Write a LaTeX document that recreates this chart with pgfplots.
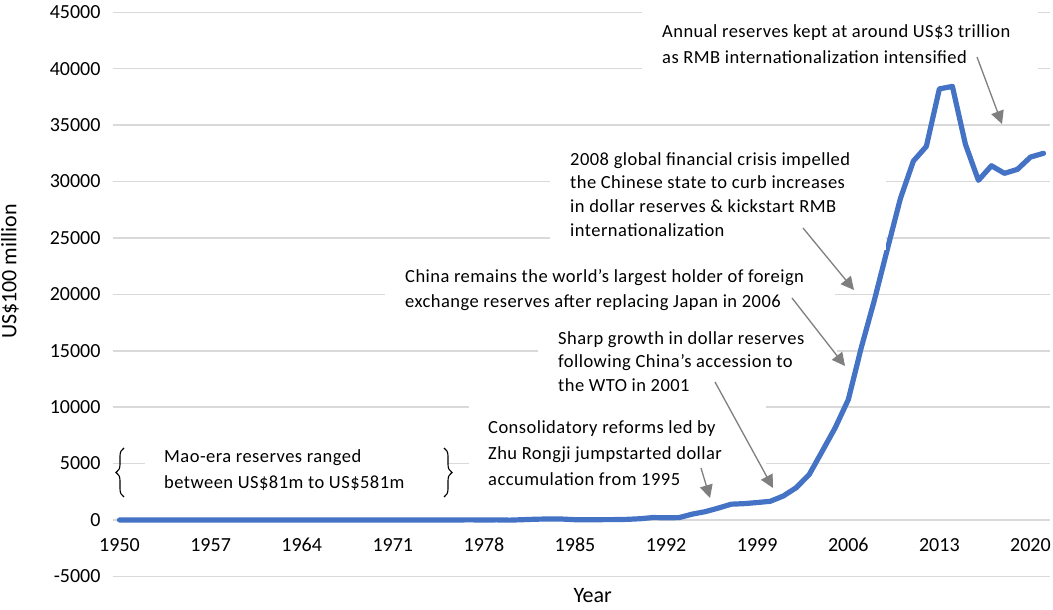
\documentclass[border=0pt]{standalone}
\usepackage{fontspec}
\setmainfont{Carlito}
\newfontfamily\annfont[LetterSpace=2.5]{Carlito}
\usepackage{pgfplots}
\pgfplotsset{compat=1.18}
\usetikzlibrary{arrows.meta,decorations.pathreplacing}
\definecolor{linec}{HTML}{4472C4}
\definecolor{gridc}{HTML}{D9D9D9}
\definecolor{arrc}{HTML}{7F7F7F}
\newcommand{\ann}[3]{\node[anchor=base west, inner sep=0pt, font=\annfont\fontsize{18.5}{22}\selectfont] at (#1pt,{(610-#2)*1pt}) {#3};}
\newcommand{\arr}[4]{\draw[arrc, line width=1.3pt, -{Triangle[width=13pt,length=13pt]}] (#1pt,{(610-#2)*1pt}) -- (#3pt,{(610-#4)*1pt});}
\newcommand{\wbox}[4]{\fill[white] (#1pt,{(610-#4)*1pt}) rectangle (#3pt,{(610-#2)*1pt});}
\begin{document}
\begin{tikzpicture}
\path[use as bounding box] (0pt,0pt) rectangle (1053pt,610pt);
\begin{axis}[
  at={(113pt,33.6pt)}, anchor=south west,
  scale only axis, width=937pt, height=564.1pt,
  xmin=1949.5, xmax=2021.5, ymin=-5000, ymax=45000,
  axis line style={draw=none},
  xtick={1950,1957,1964,1971,1978,1985,1992,1999,2006,2013,2020},
  xticklabels={1950,1957,1964,1971,1978,1985,1992,1999,2006,2013,2020},
  ytick={-5000,0,5000,10000,15000,20000,25000,30000,35000,40000,45000},
  yticklabels={-5000,0,5000,10000,15000,20000,25000,30000,35000,40000,45000},
  major tick length=0pt,
  ymajorgrids, grid style={gridc, line width=1.5pt},
  tick label style={font=\fontsize{20}{24}\selectfont},
  yticklabel style={xshift=-9pt, inner ysep=0pt},
  xticklabel style={yshift=41.6pt},
  xlabel={Year}, ylabel={US\$100 million},
  every axis x label/.style={at={(axis description cs:0.512,0)}, anchor=base, yshift=-26.6pt, font=\fontsize{22}{26}\selectfont},
  every axis y label/.style={at={(axis description cs:-0.1099,0.5405)}, rotate=90, anchor=center, font=\fontsize{22}{26}\selectfont},
  clip=false,
]
\addplot[linec, line width=5.2pt, line join=round, line cap=round] table {
x y
1950 1.57
1951 0.45
1952 1.08
1953 0.90
1954 0.88
1955 1.80
1956 1.17
1957 1.23
1958 0.70
1959 1.05
1960 0.46
1961 0.89
1962 0.81
1963 1.19
1964 1.66
1965 1.05
1966 2.11
1967 2.15
1968 2.46
1969 4.83
1970 0.88
1971 0.37
1972 2.36
1973 -0.81
1974 0.00
1975 1.83
1976 5.81
1977 9.52
1978 1.67
1979 8.40
1980 -12.96
1981 27.08
1982 69.86
1983 89.01
1984 82.20
1985 26.44
1986 20.72
1987 29.23
1988 33.72
1989 55.50
1990 110.93
1991 217.12
1992 194.43
1993 211.99
1994 516.20
1995 735.97
1996 1050.29
1997 1398.90
1998 1449.59
1999 1546.75
2000 1655.74
2001 2121.65
2002 2864.07
2003 4032.51
2004 6099.32
2005 8188.72
2006 10663.44
2007 15282.49
2008 19460.30
2009 23991.52
2010 28473.38
2011 31811.48
2012 33115.89
2013 38213.15
2014 38430.18
2015 33303.62
2016 30105.17
2017 31399.49
2018 30727.12
2019 31079.24
2020 32165.22
2021 32501.66
};
\end{axis}
% white label boxes (cover gridlines as in the original)
\wbox{145}{445}{448}{500}
\wbox{469}{398}{766}{495}
\wbox{538}{325}{837}{400}
\wbox{385}{265}{835}{318}
\wbox{550}{145}{886}{250}
\wbox{642}{5}{1038}{78}
% braces
\draw[line width=1.1pt, decorate, decoration={brace, amplitude=8pt}] (124pt,113pt) -- (124pt,162pt);
\draw[line width=1.1pt, decorate, decoration={brace, amplitude=8pt}] (444pt,162pt) -- (444pt,113pt);
% annotation texts
\ann{164}{463}{Mao-era reserves ranged}
\ann{164}{489}{between US\$81m to US\$581m}
\ann{488}{434}{Consolidatory reforms led by}
\ann{488}{460}{Zhu Rongji jumpstarted dollar}
\ann{488}{486}{accumulation from 1995}
\ann{558}{345}{Sharp growth in dollar reserves}
\ann{558}{368}{following China’s accession to}
\ann{558}{391.5}{the WTO in 2001}
\ann{405}{283}{China remains the world’s largest holder of foreign}
\ann{405}{308}{exchange reserves after replacing Japan in 2006}
\ann{570}{166}{2008 global financial crisis impelled}
\ann{570}{189}{the Chinese state to curb increases}
\ann{570}{212.5}{in dollar reserves \& kickstart RMB}
\ann{570}{236.5}{internationalization}
\ann{662}{37.7}{Annual reserves kept at around US\$3 trillion}
\ann{662}{63.3}{as RMB internationalization intensified}
% arrows
\arr{977}{57}{1002}{124}
\arr{803}{228}{854}{290}
\arr{792}{298}{845}{366}
\arr{715}{382}{773}{488}
\arr{701}{468}{710}{498}
\end{tikzpicture}
\end{document}
